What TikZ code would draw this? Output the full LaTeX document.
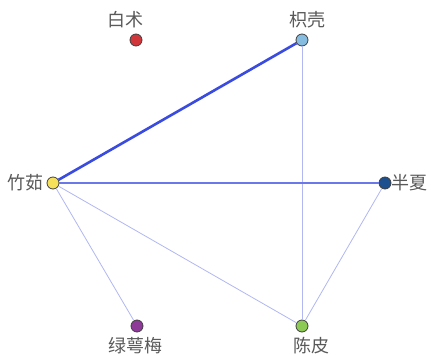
\documentclass[tikz,border=0pt]{standalone}
\usepackage{fontspec}
\usepackage{xcolor}
\usepackage{tikz}
\usetikzlibrary{positioning, arrows.meta}
\newfontfamily\cjk{Noto Sans CJK SC}
\definecolor{herbred}{HTML}{D0363A}
\definecolor{herbsky}{HTML}{86BCDF}
\definecolor{herbyellow}{HTML}{F7E15A}
\definecolor{herbnavy}{HTML}{1E4F8E}
\definecolor{herbpurple}{HTML}{8E3A98}
\definecolor{herbgreen}{HTML}{8DC955}
\definecolor{linkblue}{HTML}{3A4BDF}
\tikzset{
  herb/.style={circle, draw=black!75, line width=0.8pt, minimum size=12pt, inner sep=0pt},
  herbname/.style={font=\cjk\fontsize{18}{18}\selectfont, text=black!65, inner sep=0pt},
  strong/.style={linkblue, line width=2.6pt},
  medium/.style={linkblue!75, line width=1.2pt},
  weak/.style={linkblue!40, line width=0.8pt}
}
\begin{document}
\begin{tikzpicture}[x=1pt, y=-1pt]
            \useasboundingbox (0,0) rectangle (431,356);
            \node[herb, fill=herbred] (baizhu) at (136,40) {};
            \node[herb, fill=herbsky] (zhiqiao) at (302,40) {};
            \node[herb, fill=herbyellow] (zhuru) at (53,183) {};
            \node[herb, fill=herbnavy] (banxia) at (385,183) {};
            \node[herb, fill=herbpurple] (lvemei) at (137,326) {};
            \node[herb, fill=herbgreen] (chenpi) at (302,326) {};
            \draw[weak] (zhuru)--(lvemei); \draw[weak] (zhuru)--(chenpi);
            \draw[weak] (zhiqiao)--(chenpi); \draw[weak] (banxia)--(chenpi);
            \draw[medium] (zhuru)--(banxia);
            \draw[strong] (zhuru)--(zhiqiao);
            \node[herbname] (baizhuname) at (125,20) {白术};
            \node[herbname] (zhiqiaoname) at (307,20) {枳壳};
            \node[herbname] (zhuruname) at (26,183) {竹茹};
            \node[herbname] (banxianame) at (409,183) {半夏};
            \node[herbname] (lvemeiname) at (135,346) {绿萼梅};
            \node[herbname] (chenpiname) at (311,346) {陈皮};
        \end{tikzpicture}
\end{document}
